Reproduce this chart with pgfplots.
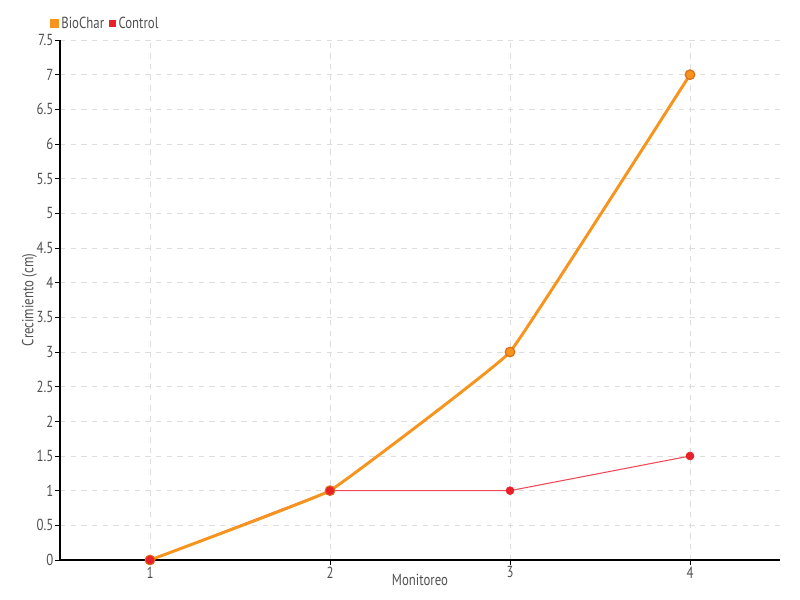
\documentclass[border=0pt]{standalone}
\usepackage{pgfplots}
\pgfplotsset{compat=1.18}
\usepackage{fontspec}
\setmainfont{PT Sans}[FakeStretch=0.8]
\definecolor{txt}{HTML}{505050}
\definecolor{gridc}{HTML}{DDDDDD}
\definecolor{bioc}{HTML}{F7941D}
\definecolor{bioedge}{HTML}{DD6E1A}
\definecolor{ctrl}{HTML}{E8202A}
\definecolor{ctrlline}{HTML}{F04A58}
\begin{document}
\begin{tikzpicture}
\begin{axis}[
  scale only axis,
  width=540pt, height=390pt,
  xmin=0.5, xmax=4.5, ymin=0, ymax=7.5,
  xtick={1,2,3,4},
  ytick={0,0.5,...,7.5},
  yticklabels={0,0.5,1,1.5,2,2.5,3,3.5,4,4.5,5,5.5,6,6.5,7,7.5},
  axis x line*=bottom, axis y line*=left,
  axis line style={black, line width=0.8pt, -},
  tick style={black, line width=0.6pt},
  tick align=outside,
  major tick length=3.5pt,
  grid=major,
  major grid style={gridc, dash pattern=on 4pt off 4pt, line width=0.6pt},
  ticklabel style={font=\fontsize{12}{14}\selectfont, text=txt},
  xticklabel style={yshift=2pt},
  yticklabel style={xshift=2pt},
  /pgf/number format/assume math mode=true,
  xlabel={Monitoreo}, ylabel={Crecimiento (cm)},
  label style={font=\fontsize{12}{14}\selectfont, text=txt},
  xlabel style={yshift=10pt},
  ylabel style={yshift=-7pt},
  legend columns=2,
  legend style={draw=none, fill=none, at={(rel axis cs:-0.02,1.008)}, anchor=south west,
    font=\fontsize{12}{14}\selectfont, text=txt,
    /tikz/every even column/.append style={column sep=2pt}},
  legend image code/.code={\fill[#1] (0pt,-2.2pt) rectangle (4.4pt,2.2pt);},
]
\addplot[ctrlline, line width=0.8pt, forget plot] coordinates {(1,0) (2,1) (3,1) (4,1.5)};
\addplot[bioc, line width=2.2pt, smooth, tension=0.12,
  mark=*, mark size=3.6pt, mark options={fill=bioc, draw=bioedge, line width=0.9pt},
  ] coordinates {(1,0) (2,1) (3,3) (4,7)};
\addlegendentry{BioChar}
\addplot[ctrl, only marks, mark=*, mark size=3pt, mark options={fill=ctrl, draw=ctrl}]
  coordinates {(1,0) (2,1) (3,1) (4,1.5)};
\addlegendentry{Control}
\end{axis}
\pgfresetboundingbox
\path[use as bounding box] (-45pt,-30pt) rectangle (555pt,420pt);
\end{tikzpicture}
\end{document}
